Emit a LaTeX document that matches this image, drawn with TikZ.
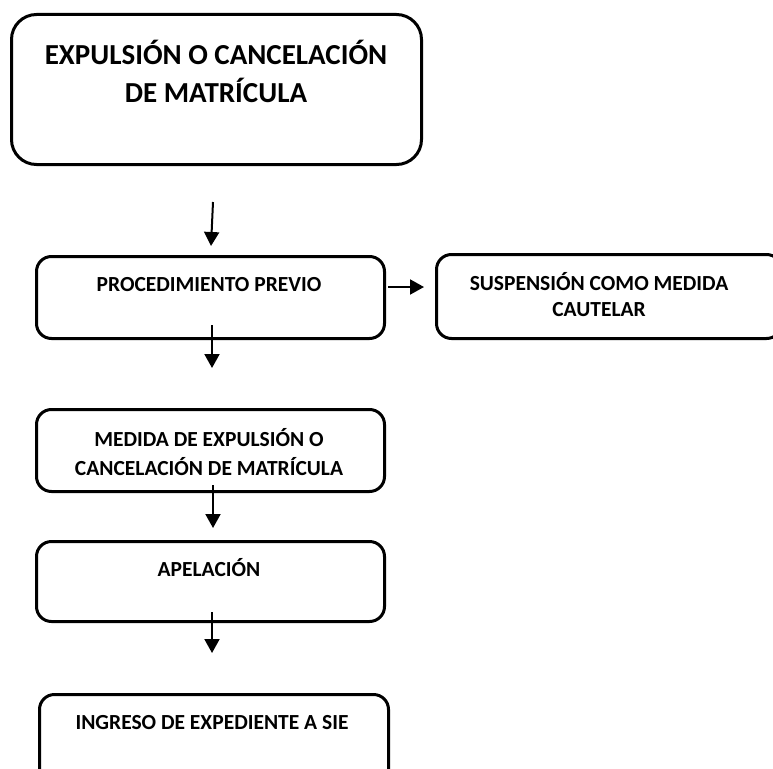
\documentclass[tikz,border=0pt]{standalone}
\usepackage{fontspec}
\setmainfont{Carlito}
\usetikzlibrary{arrows.meta,calc}
\begin{document}
\begin{tikzpicture}[x=1pt,y=-1pt,
  box/.style={draw=black,line width=3pt,rounded corners=15pt,inner sep=0pt},
  lbl/.style={font=\bfseries\fontsize{21.5}{26}\selectfont,align=center,inner sep=0pt},
  arr/.style={line width=2pt,-{Triangle[length=14pt,width=15pt]}}]
\useasboundingbox (0,0) rectangle (773,768);
\begin{scope}
\clip (0,0) rectangle (773,768);
\node[box,rounded corners=25pt,minimum width=410pt,minimum height=150pt,anchor=north west] (b1) at (10,13) {};
\node[box,minimum width=348pt,minimum height=82pt,anchor=north west] (b2) at (35,255) {};
\node[box,minimum width=345pt,minimum height=84pt,anchor=north west] (b3) at (435,253) {};
\node[box,minimum width=348pt,minimum height=82pt,anchor=north west] (b4) at (35,408) {};
\node[box,minimum width=348pt,minimum height=80pt,anchor=north west] (b5) at (35,540) {};
\node[box,minimum width=349pt,minimum height=110pt,anchor=north west] (b6) at (38,693) {};
\end{scope}
\node[lbl,font=\bfseries\fontsize{29}{38}\selectfont] (t1) at (216,71) {EXPULSIÓN O CANCELACIÓN\\DE MATRÍCULA};
\node[lbl] (t2) at (209,285) {PROCEDIMIENTO PREVIO};
\node[lbl,font=\bfseries\fontsize{21.5}{26}\selectfont] (t3) at (599,295) {SUSPENSIÓN COMO MEDIDA\\CAUTELAR};
\node[lbl,font=\bfseries\fontsize{21.5}{29}\selectfont] (t4) at (209,452) {MEDIDA DE EXPULSIÓN O\\CANCELACIÓN DE MATRÍCULA};
\node[lbl] (t5) at (209,568) {APELACIÓN};
\node[lbl] (t6) at (212,723) {INGRESO DE EXPEDIENTE A SIE};
\coordinate (a1s) at (213,202); \coordinate (a1e) at (211,246);
\coordinate (a3s) at (212,325); \coordinate (a3e) at (212,368);
\coordinate (a4s) at (213,485); \coordinate (a4e) at (213,528);
\coordinate (a5s) at (212,612); \coordinate (a5e) at (212,653);
\draw[arr] (a1s) -- (a1e);
\draw[arr] (b2.east |- t2) ++(2,2) coordinate (a2s) -- (424,287) coordinate (a2e);
\draw[arr] (a3s) -- (a3e);
\draw[arr] (a4s) -- (a4e);
\draw[arr] (a5s) -- (a5e);
\end{tikzpicture}
\end{document}
